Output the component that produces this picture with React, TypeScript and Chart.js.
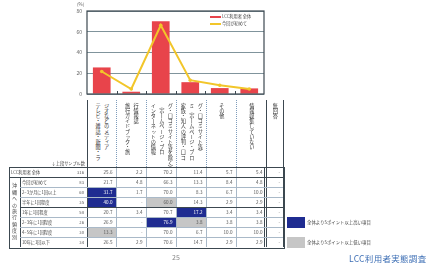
import React, { useEffect, useRef } from "react";
import { Chart, registerables } from "chart.js";
Chart.register(...registerables);

// ---------- data ----------
const categories = [
  "テレビ・雑誌・新聞・ラジオなどのメディア",
  "旅行ガイドブック・旅行情報誌",
  "インターネットの情報（ホームページ・ブログ・口コミサイト等を除く）",
  "家族・知人の評判・口コミ（ホームページ・ブログ・口コミサイト等）",
  "その他",
  "情報収集していない",
];
const headerLines = [
  ["テレビ・雑誌・新聞・ラ", "ジオなどのメディア"],
  ["旅行ガイドブック・旅", "行情報誌"],
  ["インターネットの情報", "（ホームページ・ブロ", "グ・口コミサイト等を除く）"],
  ["家族・知人の評判・口コ", "ミ（ホームページ・ブロ", "グ・口コミサイト等）"],
  ["その他"],
  ["情報収集していない"],
  ["無回答"],
];
const overallLabel = "LCC利用者 全体";
const firstTimeLabel = "今回が初めて";
const overallValues = [25.6, 2.2, 70.2, 11.4, 5.7, 5.4];
const firstTimeValues = [21.7, 4.8, 66.3, 13.3, 8.4, 4.8];
const yMin = 0;
const yMax = 80;
const yStep = 20;
const yUnit = "(%)";

const sampleHeader = "↓上段サンプル数";
const groupTitle = "沖縄への旅行頻度別";
const overallN = 316;
const rowLabels = [
  "今回が初めて",
  "2~3か月に1回以上",
  "半年に1回程度",
  "1年に1回程度",
  "2~3年に1回程度",
  "4~5年に1回程度",
  "10年に1回以下",
];
const rowN = [83, 60, 35, 58, 26, 30, 34];
const every2to3Months = [31.7, 1.7, 70.0, 8.3, 6.7, 10.0];
const halfYear = [40.0, null, 60.0, 14.3, 2.9, 2.9];
const oneYear = [20.7, 3.4, 70.7, 17.2, 3.4, 3.4];
const every2to3Years = [26.9, null, 76.9, 3.8, 3.8, 3.8];
const every4to5Years = [13.3, null, 70.0, 6.7, 10.0, 10.0];
const tenYearsOrLess = [26.5, 2.9, 70.6, 14.7, 2.9, 2.9];
const noAnswerText = "-";
const thresholdPoints = 5;
const legendHigh = "全体より5ポイント以上高い項目";
const legendLow = "全体より5ポイント以上低い項目";
const pageNumber = "25";
const footerTitle = "LCC利用者実態調査";

const rowValues = [
  firstTimeValues,
  every2to3Months,
  halfYear,
  oneYear,
  every2to3Years,
  every4to5Years,
  tenYearsOrLess,
];

// ---------- styles ----------
const FONT = "'Noto Sans CJK JP', 'Noto Sans', sans-serif";
const RED = "#e8444b";
const YELLOW = "#f2c62a";
const BLUE = "#1f2c91";
const GRAY = "#c6c6c6";
const DARK = "#3c4850";
const LIGHT = "#a9b9c8";

const colEdges = [87, 116, 146, 176, 206, 236, 266, 283];
const rowEdges = [167, 177, 187, 197, 207, 217, 227, 237, 247];

const framePlugin = {
  id: "frame",
  afterDraw(chart: any) {
    const { ctx, chartArea } = chart;
    const xs = chart.scales.x;
    ctx.save();
    ctx.strokeStyle = DARK;
    ctx.lineWidth = 1.2;
    ctx.strokeRect(chartArea.left, chartArea.top, chartArea.right - chartArea.left, chartArea.bottom - chartArea.top);
    ctx.lineWidth = 1;
    for (let i = 0; i < categories.length - 1; i++) {
      const x = Math.round((xs.getPixelForValue(i) + xs.getPixelForValue(i + 1)) / 2) + 0.5;
      ctx.beginPath();
      ctx.moveTo(x, chartArea.bottom);
      ctx.lineTo(x, chartArea.bottom - 3);
      ctx.stroke();
    }
    ctx.restore();
  },
};

function ChartCanvas() {
  const ref = useRef<HTMLCanvasElement | null>(null);
  useEffect(() => {
    if (!ref.current) return;
    Chart.defaults.font.family = FONT;
    const chart = new Chart(ref.current, {
      type: "bar",
      data: {
        labels: categories,
        datasets: [
          {
            type: "line",
            label: firstTimeLabel,
            data: firstTimeValues,
            borderColor: YELLOW,
            backgroundColor: YELLOW,
            borderWidth: 2,
            pointRadius: 1.8,
            pointBackgroundColor: YELLOW,
            pointBorderWidth: 0,
            order: 0,
          } as any,
          {
            type: "bar",
            label: overallLabel,
            data: overallValues,
            backgroundColor: RED,
            categoryPercentage: 1,
            barPercentage: 0.6,
            order: 1,
          },
        ],
      },
      options: {
        responsive: false,
        animation: false,
        layout: { padding: { left: 0, right: 3, top: 11, bottom: 1.5 } },
        plugins: { legend: { display: false }, tooltip: { enabled: false } },
        scales: {
          x: { display: false, offset: true },
          y: {
            min: yMin,
            max: yMax,
            ticks: { stepSize: yStep, font: { size: 5 }, color: "#666", padding: 5 },
            grid: { color: "#5f7883", lineWidth: 0.8, drawTicks: false },
            border: { display: false },
            afterFit: (s: any) => {
              s.width = 87;
            },
          },
        },
      },
      plugins: [framePlugin],
    });
    return () => chart.destroy();
  }, []);
  return <canvas ref={ref} width={268} height={102} style={{ position: "absolute", left: 0, top: 0, width: 268, height: 102 }} />;
}

const abs = (s: React.CSSProperties): React.CSSProperties => ({ position: "absolute", ...s });

function fmt(v: number | null) {
  return v === null ? "-" : v.toFixed(1);
}

export default function App() {
  const lines: React.ReactNode[] = [];
  // header region verticals
  colEdges.forEach((x, i) => {
    const solid = i === 0 || i === 6 || i === 7;
    lines.push(
      <div key={"hv" + i} style={abs({ left: x - 0.5, top: 100, width: 0, height: 67, borderLeft: solid ? `1px solid ${DARK}` : `1px dotted #7e9cbc` })} />
    );
    lines.push(
      <div key={"bv" + i} style={abs({ left: x - 0.5, top: 167, width: 0, height: 80, borderLeft: solid ? `1px solid ${DARK}` : `1px solid ${LIGHT}` })} />
    );
  });
  lines.push(<div key="dbl" style={abs({ left: 263.5, top: 167, width: 0, height: 80, borderLeft: `1px solid ${DARK}` })} />);
  // outer table
  lines.push(<div key="outer" style={abs({ left: 8.5, top: 166.5, width: 274, height: 80, border: `1px solid ${DARK}` })} />);
  lines.push(<div key="v20" style={abs({ left: 19.5, top: 177, width: 0, height: 70, borderLeft: `1px solid ${DARK}` })} />);
  rowEdges.slice(1, -1).forEach((y, i) => {
    const strong = i === 0 || i === 3;
    lines.push(
      <div key={"h" + i} style={abs({ left: 20, top: y - 0.5, width: 263, height: 0, borderTop: strong ? `1.5px solid ${DARK}` : `1px solid ${LIGHT}` })} />
    );
  });
  lines.push(<div key="h0full" style={abs({ left: 9, top: 176.5, width: 11, height: 0, borderTop: `1.5px solid ${DARK}` })} />);

  const cells: React.ReactNode[] = [];
  const allRows = [overallValues, ...rowValues];
  allRows.forEach((vals, r) => {
    const top = rowEdges[r];
    const h = rowEdges[r + 1] - top;
    vals.forEach((v, c) => {
      let bg = "transparent";
      let color = "#555";
      if (r > 0 && v !== null) {
        const d = (v as number) - overallValues[c];
        if (d >= thresholdPoints) {
          bg = BLUE;
          color = "#fff";
        } else if (d <= -thresholdPoints) {
          bg = GRAY;
        }
      }
      cells.push(
        <div
          key={`c${r}-${c}`}
          style={abs({
            left: colEdges[c] + 0.5,
            top: top + 0.5,
            width: colEdges[c + 1] - colEdges[c] - 1,
            height: h - 1,
            background: bg,
            color,
            fontSize: 4.6,
            lineHeight: `${h - 1}px`,
            textAlign: "right",
            paddingRight: 3,
            boxSizing: "border-box",
          })}
        >
          {fmt(v as number | null)}
        </div>
      );
    });
    cells.push(
      <div key={`na${r}`} style={abs({ left: 266, top, width: 16, height: h, fontSize: 4.6, lineHeight: `${h}px`, textAlign: "right", paddingRight: 2, boxSizing: "border-box", color: "#555" })}>
        {noAnswerText}
      </div>
    );
    const label = r === 0 ? overallLabel : rowLabels[r - 1];
    const n = r === 0 ? overallN : rowN[r - 1];
    cells.push(
      <div key={`l${r}`} style={abs({ left: r === 0 ? 11 : 22, top, height: h, fontSize: 4.2, lineHeight: `${h}px`, color: "#444", whiteSpace: "nowrap" })}>
        {label}
      </div>
    );
    cells.push(
      <div key={`n${r}`} style={abs({ left: 66, top, width: 18, height: h, fontSize: 4.2, lineHeight: `${h}px`, textAlign: "right", color: "#555" })}>
        {n}
      </div>
    );
  });

  return (
    <div style={{ position: "fixed", left: 0, top: 0, width: 427, height: 263, background: "#fff", overflow: "hidden", fontFamily: FONT }}>
      <ChartCanvas />
      <div style={abs({ left: 77, top: 1, fontSize: 4.5, color: "#555" })}>{yUnit}</div>
      {/* legend */}
      <div style={abs({ left: 210, top: 15.5, width: 11, height: 2.5, background: RED })} />
      <div style={abs({ left: 222, top: 13, fontSize: 4.2, lineHeight: "7px", color: "#444", whiteSpace: "nowrap" })}>{overallLabel}</div>
      <div style={abs({ left: 210, top: 22.5, width: 11, height: 2.5, background: YELLOW })} />
      <div style={abs({ left: 222, top: 20, fontSize: 4.2, lineHeight: "7px", color: "#444", whiteSpace: "nowrap" })}>{firstTimeLabel}</div>
      {/* header vertical labels */}
      {headerLines.map((ls, i) => (
        <div
          key={"hd" + i}
          style={abs({ left: colEdges[i], top: 103, width: colEdges[i + 1] - colEdges[i], height: 60, display: "flex", justifyContent: "center", alignItems: "flex-start" })}
        >
          <div style={{ writingMode: "vertical-lr", textOrientation: "upright", fontSize: 5.2, lineHeight: "8.5px", whiteSpace: "pre", color: "#333" }}>
            {ls.join("\n")}
          </div>
        </div>
      ))}
      <div style={abs({ left: 40, top: 161, width: 45, textAlign: "right", fontSize: 4.2, lineHeight: "5px", color: "#444", whiteSpace: "nowrap" })}>{sampleHeader}</div>
      {cells}
      {lines}
      <div
        style={abs({ left: 9, top: 177, width: 11, height: 70, display: "flex", justifyContent: "center", alignItems: "center" })}
      >
        <div style={{ writingMode: "vertical-lr", textOrientation: "upright", fontSize: 5, letterSpacing: 1.4, color: "#444" }}>{groupTitle}</div>
      </div>
      {/* highlight legend */}
      <div style={abs({ left: 287, top: 217, width: 18, height: 11, background: BLUE })} />
      <div style={abs({ left: 307, top: 219, fontSize: 4.4, lineHeight: "7px", color: "#444", whiteSpace: "nowrap" })}>{legendHigh}</div>
      <div style={abs({ left: 287, top: 237, width: 18, height: 11, background: GRAY })} />
      <div style={abs({ left: 307, top: 239, fontSize: 4.4, lineHeight: "7px", color: "#444", whiteSpace: "nowrap" })}>{legendLow}</div>
      {/* footer */}
      <div style={abs({ left: 172, top: 253, fontSize: 7, lineHeight: "9px", color: "#888" })}>{pageNumber}</div>
      <div style={abs({ left: 349, top: 253, fontSize: 8.5, lineHeight: "10px", color: "#3e6fb5", whiteSpace: "nowrap", letterSpacing: 0.3 })}>{footerTitle}</div>
    </div>
  );
}
